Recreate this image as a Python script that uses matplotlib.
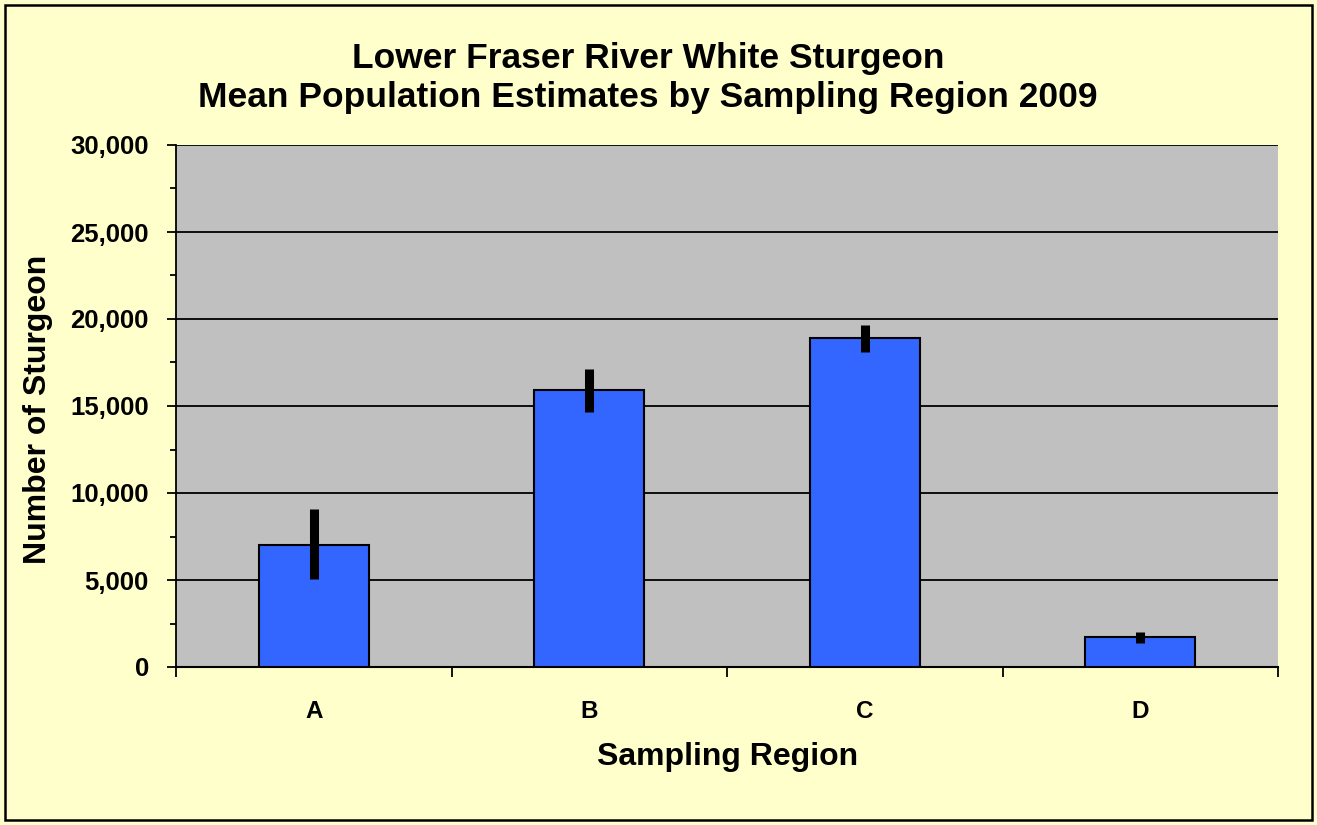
import matplotlib
matplotlib.use("Agg")
import matplotlib.pyplot as plt
from matplotlib.patches import Rectangle
from matplotlib.ticker import MultipleLocator, FuncFormatter
import numpy as np

categories = ["A", "B", "C", "D"]
means = [7000, 15900, 18900, 1720]
err_low = [5050, 14650, 18100, 1380]
err_high = [9080, 17130, 19650, 2010]

plt.rcParams['font.family'] = ['Liberation Sans', 'DejaVu Sans']

fig = plt.figure(figsize=(13.17, 8.25), dpi=100)
fig.patch.set_facecolor('#FFFFCC')
fig.patches.append(Rectangle((5/1317, 5/825), 1307/1317, 815/825, transform=fig.transFigure,
                             fill=False, edgecolor='black', linewidth=1.8, zorder=10))

ax = fig.add_axes([176/1317, 1 - 667/825, (1278-176)/1317, (667-145)/825])
ax.set_facecolor('#C0C0C0')
x = np.arange(len(categories))
ax.bar(x, means, width=0.4, color='#3366FF', edgecolor='black', linewidth=1.5, zorder=3)
ax.vlines(x, err_low, err_high, color='black', linewidth=6.5, zorder=4)

ax.set_xlim(-0.5, 3.5)
ax.set_ylim(0, 30000)
ax.yaxis.set_major_locator(MultipleLocator(5000))
ax.yaxis.set_minor_locator(MultipleLocator(2500))
ax.yaxis.set_major_formatter(FuncFormatter(lambda v, p: f"{int(v):,}"))
ax.grid(axis='y', which='major', color='black', linewidth=1.3, zorder=1)
ax.set_xticks(x)
ax.set_xticklabels(categories)
ax.set_xticks(np.arange(-0.5, 4, 1), minor=True)
ax.tick_params(axis='x', which='major', length=0, pad=24, labelsize=17.5)
ax.tick_params(axis='x', which='minor', length=7, width=1.3, direction='out')
ax.tick_params(axis='y', which='major', length=6.5, width=1.3, direction='out', labelsize=18.5, pad=13)
ax.tick_params(axis='y', which='minor', length=4, width=1.3, direction='out')
for lab in ax.get_xticklabels() + ax.get_yticklabels():
    lab.set_fontweight('bold')

for s in ['top', 'right']:
    ax.spines[s].set_visible(False)
ax.spines['left'].set_linewidth(1.3)
ax.spines['bottom'].set_linewidth(1.5)

fig.text(728/1317, 1 - 757/825, "Sampling Region", ha='center', va='center', fontsize=23, fontweight='bold')
fig.text(38/1317, 1 - 409/825, "Number of Sturgeon", ha='center', va='center', rotation=90,
         fontsize=23, fontweight='bold')
fig.text(648/1317, 1 - 78/825, "Lower Fraser River White Sturgeon\nMean Population Estimates by Sampling Region 2009",
         ha='center', va='center', fontsize=25.5, fontweight='bold', linespacing=1.2)

fig.savefig("out.png", dpi=100, facecolor=fig.get_facecolor())
